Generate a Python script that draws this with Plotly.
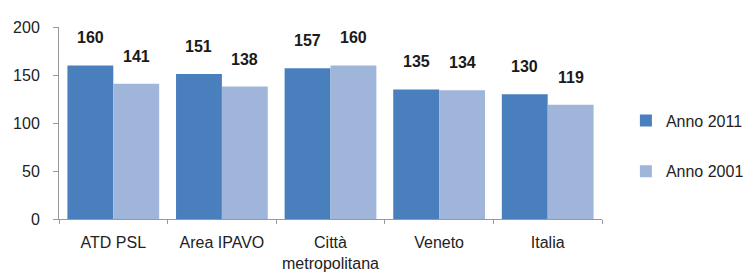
import plotly.graph_objects as go

categories = ["ATD PSL", "Area IPAVO", "Città<br>metropolitana", "Veneto", "Italia"]
anno_2011 = [160, 151, 157, 135, 130]
anno_2001 = [141, 138, 160, 134, 119]
y_ticks = [0, 50, 100, 150, 200]

dark = "#4a7fbe"
light = "#a0b5da"
font_family = "Liberation Sans, Arial, sans-serif"

fig = go.Figure()
fig.add_trace(go.Bar(x=categories, y=anno_2011, name="Anno 2011", marker_color=dark,
                     marker_line_width=0, legendgroup="a"))
fig.add_trace(go.Bar(x=categories, y=anno_2001, name="Anno 2001", marker_color=light,
                     marker_line_width=0, legendgroup="b"))

for vals, shift in ((anno_2011, -23), (anno_2001, 23)):
    for c, v in zip(categories, vals):
        fig.add_annotation(x=c, y=v, text=f"<b>{v}</b>", showarrow=False,
                           xshift=shift, yshift=17, yanchor="bottom",
                           font=dict(family=font_family, size=16, color="#1a1a1a"))

fig.update_layout(
    width=753, height=280,
    margin=dict(l=51, r=153, t=19, b=69),
    paper_bgcolor="white", plot_bgcolor="white",
    barmode="group", bargap=0.155, bargroupgap=0,
    font=dict(family=font_family, size=16, color="#222"),
    legend=dict(x=1.044, y=0.38, yanchor="middle", xanchor="left",
                tracegroupgap=27, font=dict(size=16, color="#222"),
                itemwidth=30),
    showlegend=True,
)
fig.update_xaxes(showline=True, linecolor="#999", linewidth=1, ticks="outside",
                 tickson="boundaries", ticklen=4, tickcolor="#999",
                 ticklabelstandoff=9, automargin=False,
                 tickfont=dict(size=16, color="#222"))
fig.update_yaxes(range=[0, 200], tickvals=y_ticks, showgrid=False, zeroline=False,
                 showline=True, linecolor="#999", linewidth=1, ticks="outside",
                 ticklen=5, tickcolor="#999", ticklabelstandoff=10, automargin=False,
                 tickfont=dict(size=16, color="#222"))

fig.write_html("out.html")
